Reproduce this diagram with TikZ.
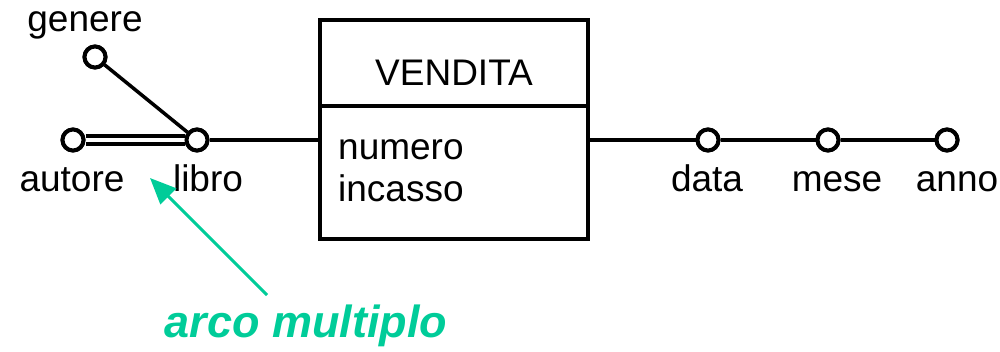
\documentclass[tikz,border=0pt]{standalone}
\usepackage{fontspec}
\setmainfont{Liberation Sans}
\usetikzlibrary{arrows.meta}
\definecolor{arcgreen}{RGB}{0,204,153}
\begin{document}
\begin{tikzpicture}[x=1pt,y=-1pt,
  attr/.style={draw,line width=4pt,fill=white,circle,minimum size=21pt,inner sep=0pt},
  lab/.style={anchor=base,inner sep=0pt,font=\fontsize{37}{40}\selectfont},
  edge/.style={line width=3.5pt},
  note/.style={arcgreen,line width=3pt,-{Triangle[length=26pt,width=22pt]}}]
\useasboundingbox (0,0) rectangle (1000,352);
% entity box
\node[draw,line width=4pt,minimum width=268pt,minimum height=219pt,inner sep=0pt] (box) at (454,129.5) {};
\draw[line width=4pt] (box.west |- 0,106) -- (box.east |- 0,106);
\node[lab] (vendita) at (454,86) {VENDITA};
\node[lab,anchor=base west] (numero) at (338,160) {numero};
\node[lab,anchor=base west] (incasso) at (338,202) {incasso};
% attribute circles
\node[attr] (libro) at (197,140) {};
\node[attr] (autore) at (73,140) {};
\node[attr] (genere) at (95,57) {};
\node[attr] (data) at (708,140) {};
\node[attr] (mese) at (828,140) {};
\node[attr] (anno) at (947,140) {};
% connectors
\draw[edge] (box.west |- libro) -- (libro);
\draw[edge] (genere) -- (libro);
\draw[line width=4pt,double=white,double distance=3.5pt] (autore) -- (libro);
\draw[edge] (box.east |- data) -- (data);
\draw[edge] (data) -- (mese);
\draw[edge] (mese) -- (anno);
% redraw circles on top of connectors
\foreach \n in {libro,autore,genere,data,mese,anno}
  \draw[line width=4pt,fill=white] (\n.center) circle (10.5pt);
% labels
\node[lab] (tgenere) at (85,32) {genere};
\node[lab] (tautore) at (72,192) {autore};
\node[lab] (tlibro) at (208,192) {libro};
\node[lab] (tdata) at (707,192) {data};
\node[lab] (tmese) at (837,192) {mese};
\node[lab] (tanno) at (957,192) {anno};
% note
\node[anchor=base,inner sep=0pt,text=arcgreen,font=\fontsize{45}{48}\selectfont\bfseries\itshape] (arco) at (306,337) {arco multiplo};
\coordinate (arcstart) at (267,295);
\coordinate (arctip) at (150,178);
\draw[note] (arcstart) -- (arctip);
\end{tikzpicture}
\end{document}
